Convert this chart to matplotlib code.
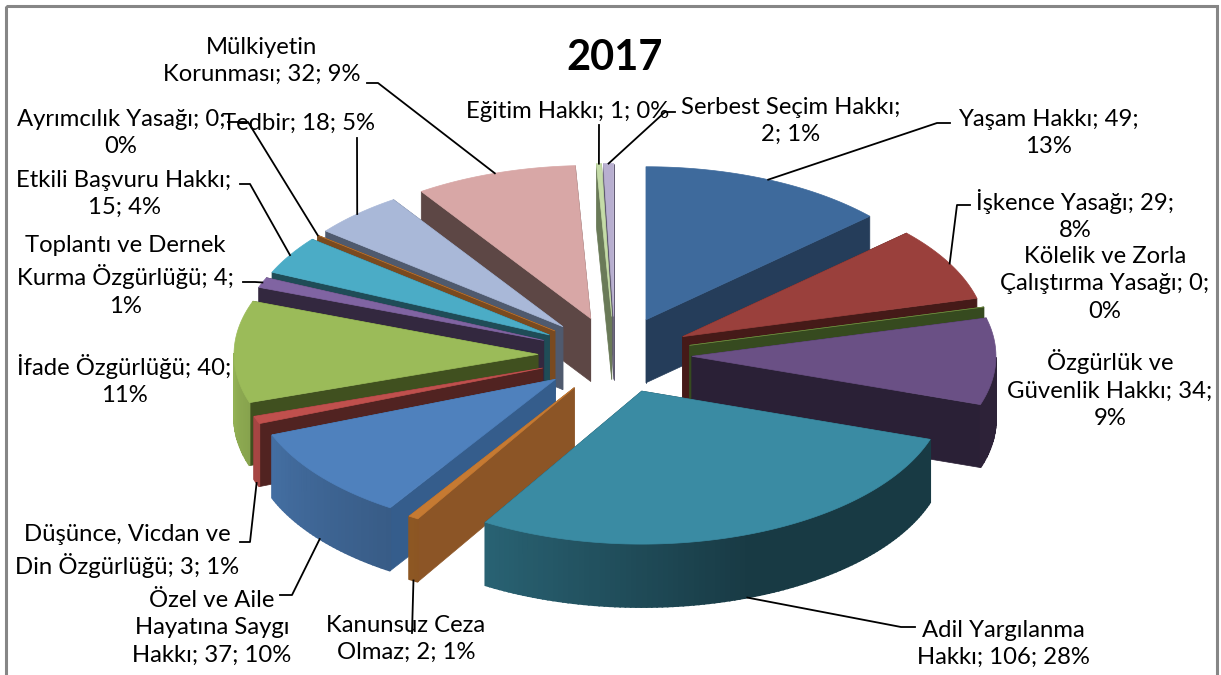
import numpy as np
import matplotlib
matplotlib.use('Agg')
import matplotlib.pyplot as plt
from matplotlib.patches import Polygon, Rectangle

# slice values, clockwise from 12 o'clock
names = ['Yaşam', 'İşkence', 'Kölelik', 'Özgürlük', 'Adil', 'Kanunsuz', 'Özel', 'Düşünce',
         'İfade', 'Toplantı', 'Etkili', 'Ayrımcılık', 'Tedbir', 'Mülkiyet', 'Eğitim', 'Serbest']
values = [49, 29, 0, 34, 106, 2, 37, 3, 40, 4, 15, 0, 18, 32, 1, 2]

labels = ['Yaşam Hakkı; 49;\n13%', 'İşkence Yasağı; 29;\n8%', 'Kölelik ve Zorla\nÇalıştırma Yasağı; 0;\n0%',
          'Özgürlük ve\nGüvenlik Hakkı; 34;\n9%', 'Adil Yargılanma\nHakkı; 106; 28%', 'Kanunsuz Ceza\nOlmaz; 2; 1%',
          'Özel ve Aile\nHayatına Saygı\nHakkı; 37; 10%', 'Düşünce, Vicdan ve\nDin Özgürlüğü; 3; 1%',
          'İfade Özgürlüğü; 40;\n11%', 'Toplantı ve Dernek\nKurma Özgürlüğü; 4;\n1%', 'Etkili Başvuru Hakkı;\n15; 4%',
          'Ayrımcılık Yasağı; 0;\n0%', 'Tedbir; 18; 5%', 'Mülkiyetin\nKorunması; 32; 9%', 'Eğitim Hakkı; 1; 0%',
          'Serbest Seçim Hakkı;\n2; 1%']

top_colors = ['#3e6a9c', '#9a403c', '#7d9a45', '#6a5085', '#3a8ba3', '#c67a32', '#4f81bd', '#c0504d',
              '#9bbb59', '#8064a2', '#4bacc6', '#c67a32', '#a9b8d8', '#d8a7a6', '#c5dca8', '#b8afd0']
cut_colors = ['#253d5a', '#451a18', '#364a1f', '#2a2036', '#1a3a44', '#8c5526', '#355d8c', '#512321',
              '#40501f', '#33283f', '#1f4c57', '#7a4a1f', '#4f5a6e', '#5d4745', '#6a7a58', '#5f5a70']

label_pos = [(1048, 133), (1075, 215), (1105, 284), (1110, 389), (1003, 644), (406, 639), (212, 628), (127, 551),
             (124, 380), (125, 276), (124, 194), (121, 133), (299, 123), (262, 61), (568, 111), (791, 121)]

# leader start points next to the label (None = no leader)
leaders = [[(950, 123), (937, 123)], [(970, 205), (957, 205)], None, None, [(915, 627), (901, 627)], [(412, 633)],
           [(280, 595), (292, 595)], [(240, 542), (250, 542)], None, [(243, 282), (255, 282)],
           [(240, 184), (250, 184)], [(228, 122), (248, 122)], [(357, 138)], [(367, 83), (378, 83)], [(599, 125)],
           [(675, 112), (665, 112)]]

# pie geometry in pixels
cx, cy = 615, 355
rx, ry = 304, 153
explode = 77
depth = 63

fig = plt.figure(figsize=(12.21, 6.75), dpi=100)
ax = fig.add_axes([0, 0, 1, 1])
ax.set_xlim(0, 1221)
ax.set_ylim(675, 0)
ax.axis('off')
plt.rcParams['font.family'] = ['Lato', 'DejaVu Sans']

ax.add_patch(Rectangle((6, 6), 1211, 700, fill=False, ec='#868686', lw=2.2, zorder=0))


def pt(ox, oy, a):
    return ox + rx * np.sin(a), oy - ry * np.cos(a)


def rim_shade(deg):
    return np.interp(deg, [90, 160, 210, 240, 270], [0.42, 0.42, 0.70, 0.82, 0.95])


def scaled(col, f):
    return tuple(c * f for c in matplotlib.colors.to_rgb(col))


total = sum(values)
edges = np.cumsum([0] + values) / total * 2 * np.pi
mids = (edges[:-1] + edges[1:]) / 2
origins = [(cx + explode * np.sin(m), cy - explode * 0.5 * np.cos(m)) for m in mids]

# back slices first
order = sorted(range(len(values)), key=lambda i: -np.cos(mids[i]))
z = 1
for i in order:
    ox, oy = origins[i]
    a0, a1 = edges[i], edges[i + 1]
    for a in (a0, a1):
        x, y = pt(ox, oy, a)
        ax.add_patch(Polygon([(ox, oy), (x, y), (x, y + depth), (ox, oy + depth)], fc=cut_colors[i],
                             ec=cut_colors[i], lw=0.5, zorder=z))
    angs = np.linspace(a0, a1, max(int(np.degrees(a1 - a0)) + 2, 2))
    for p, q in zip(angs[:-1], angs[1:]):
        if np.cos((p + q) / 2) >= 0:
            continue
        xp, yp = pt(ox, oy, p)
        xq, yq = pt(ox, oy, q)
        c = scaled(top_colors[i], rim_shade(np.degrees((p + q) / 2)))
        ax.add_patch(Polygon([(xp, yp), (xq, yq), (xq, yq + depth), (xp, yp + depth)], fc=c, ec=c, lw=1.2, zorder=z))
    top = [(ox, oy)] + [pt(ox, oy, a) for a in angs]
    ax.add_patch(Polygon(top, fc=top_colors[i], ec=top_colors[i], lw=0.5, zorder=z))
    z += 1

# leader lines run to the outer edge of each slice
for i in range(len(values)):
    if leaders[i] is None:
        continue
    ex, ey = pt(origins[i][0], origins[i][1], mids[i])
    if np.cos(mids[i]) < 0:
        ey += depth
    pts = leaders[i] + [(ex, ey)]
    ax.plot([p[0] for p in pts], [p[1] for p in pts], color='black', lw=1.3, zorder=50)

for i in range(len(values)):
    ax.text(label_pos[i][0], label_pos[i][1], labels[i], ha='center', va='center', fontsize=17.2,
            linespacing=1.38, color='black', zorder=60)

ax.text(615, 58, '2017', ha='center', va='center', fontsize=30, fontweight='bold', color='black', zorder=60)

fig.savefig('out.png', dpi=100)
